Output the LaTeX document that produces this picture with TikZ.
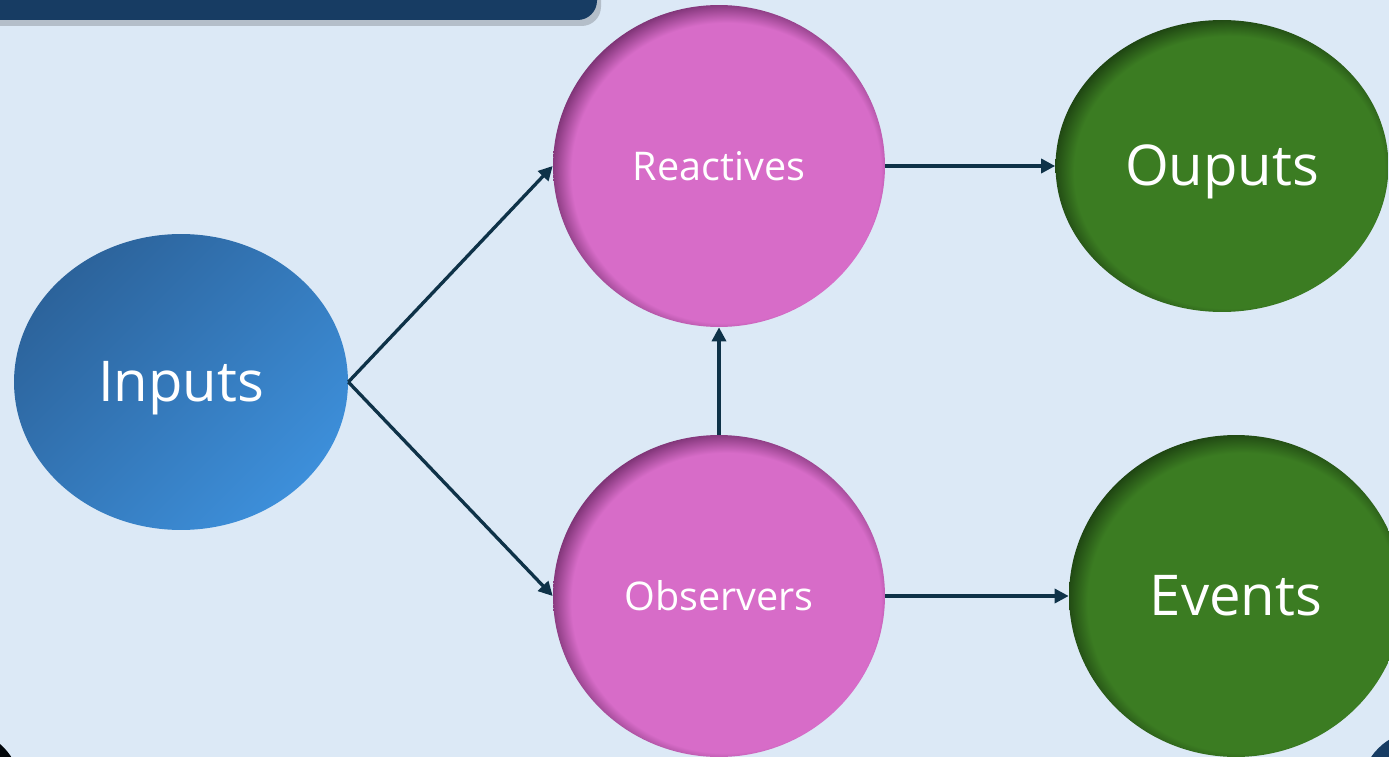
\documentclass[tikz,border=0pt]{standalone}
\usepackage{fontspec}
\setsansfont{Open Sans}
\usetikzlibrary{arrows.meta,positioning,shapes.geometric}
\definecolor{pagebg}{HTML}{DCE9F6}
\definecolor{banner}{HTML}{173C63}
\definecolor{arrowc}{HTML}{0E3248}
\definecolor{pinkfill}{HTML}{D76CC8}
\definecolor{pinkedge}{HTML}{7A3172}
\definecolor{greenfill}{HTML}{3B7C22}
\definecolor{greenedge}{HTML}{1D4211}
\definecolor{bluedark}{HTML}{2C639B}
\definecolor{bluelight}{HTML}{3D8FDA}
\pgfdeclareradialshading{pinkrim}{\pgfpoint{2bp}{-2bp}}{color(0bp)=(pinkfill); color(23.3bp)=(pinkfill); color(26.5bp)=(pinkedge); color(50bp)=(pinkedge)}
\pgfdeclareradialshading{greenrim}{\pgfpoint{2bp}{-2bp}}{color(0bp)=(greenfill); color(23.3bp)=(greenfill); color(26.5bp)=(greenedge); color(50bp)=(greenedge)}
\tikzset{
    every node/.style={font=\sffamily, text=white},
    line/.style={-{Triangle[length=8pt,width=8pt]}, line width=1.9pt, draw=arrowc},
    blob/.style={ellipse, inner sep=0pt},
    bigtext/.style={font=\sffamily\fontsize{32pt}{36pt}\selectfont, text height=24.4pt, text depth=2pt},
    smalltext/.style={font=\sffamily\fontsize{22.5pt}{26pt}\selectfont},
    pinkblob/.style={blob, shade, shading=pinkrim, minimum width=6.64cm, minimum height=6.44cm, smalltext},
    greenblob/.style={blob, shade, shading=greenrim, bigtext}
}

\begin{document}
\begin{tikzpicture}[x=0.02cm, y=-0.02cm]
\useasboundingbox (0,0) rectangle (1389,757);
\fill[pagebg] (0,0) rectangle (1389,757);

% header bar and corner bits
\fill[black, opacity=0.18, rounded corners=11pt] (-30,-30) rectangle (601,26);
\fill[banner, rounded corners=11pt] (-30,-30) rectangle (597,20);
\fill[black!85!arrowc] (-40,790) circle (1.22cm);
\fill[banner] (1420,790) circle (1.18cm);

\node[blob, bigtext, top color=bluedark, bottom color=bluelight, shading angle=45,
      minimum width=6.68cm, minimum height=5.92cm] (inputs) at (181,382) {Inputs};
\node[pinkblob] (reactives) at (719,166) {Reactives};
\node[pinkblob] (observers) at (719,596) {Observers};
\node[greenblob, minimum width=6.66cm, minimum height=5.84cm] (outputs) at (1222,166) {Ouputs};
\node[greenblob, minimum width=6.68cm, minimum height=6.44cm] (events) at (1236,596) {Events};

\draw[line] (inputs.east) -- (reactives.west);
\draw[line] (inputs.east) -- (observers.west);
\draw[line] (observers.north) -- (reactives.south);
\draw[line] (reactives.east) -- (outputs.west);
\draw[line] (observers.east) -- (events.west);

\end{tikzpicture}
\end{document}
